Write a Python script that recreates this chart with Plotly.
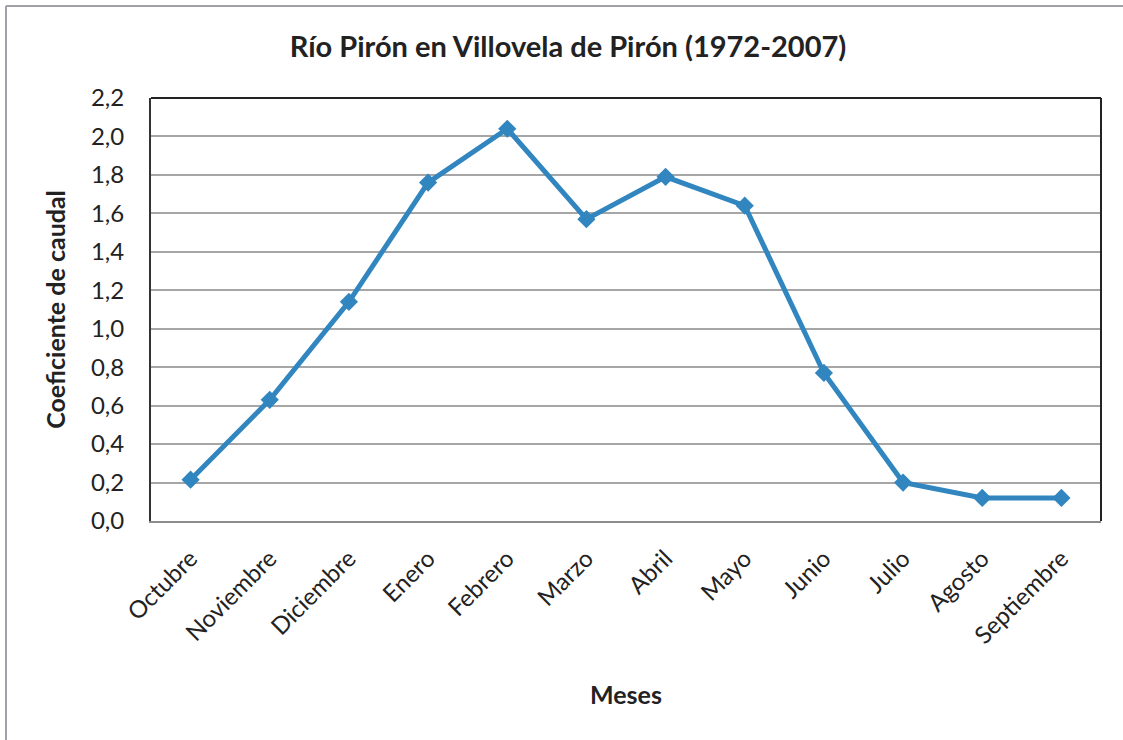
import plotly.graph_objects as go

meses = ["Octubre", "Noviembre", "Diciembre", "Enero", "Febrero", "Marzo",
         "Abril", "Mayo", "Junio", "Julio", "Agosto", "Septiembre"]
coeficiente = [0.215, 0.63, 1.14, 1.76, 2.04, 1.57, 1.79, 1.64, 0.77, 0.20, 0.12, 0.12]
y_ticks = [0.0, 0.2, 0.4, 0.6, 0.8, 1.0, 1.2, 1.4, 1.6, 1.8, 2.0, 2.2]
y_ticktext = [f"{v:.1f}".replace(".", ",") for v in y_ticks]

W, H = 1123, 740
L, R, T, B = 151, 22, 98, 219
FONT = "Lato"
LINE_COLOR = "#3186c0"

fig = go.Figure()
fig.add_trace(go.Scatter(
    x=meses, y=coeficiente, mode="lines+markers",
    line=dict(color=LINE_COLOR, width=5),
    marker=dict(symbol="diamond", size=14, color=LINE_COLOR),
    showlegend=False, hoverinfo="x+y",
))

pw = W - L - R
ph = H - T - B

fig.update_layout(
    width=W, height=H, autosize=False,
    margin=dict(l=L, r=R, t=T, b=B),
    paper_bgcolor="white", plot_bgcolor="white",
    font=dict(family=FONT, color="#222222"),
    title=dict(text="<b>Río Pirón en Villovela de Pirón (1972-2007)</b>",
               x=568 / W, xanchor="center", xref="container",
               y=1 - 47 / H, yanchor="middle", yref="container",
               font=dict(family=FONT, size=29, color="#222222")),
    xaxis=dict(
        type="category", tickangle=-45, tickfont=dict(size=24),
        showgrid=False, ticks="", showline=True, linecolor="#8c8c8c", linewidth=2,
        mirror=False, range=[-0.5, len(meses) - 0.5], ticklabelstandoff=12,
        title=dict(text="<b>Meses</b>", font=dict(size=25), standoff=38),
    ),
    yaxis=dict(
        range=[0, 2.2], tickvals=y_ticks, ticktext=y_ticktext,
        tickfont=dict(size=24), ticks="", ticklabelstandoff=20,
        showgrid=True, gridcolor="#a6a6a6", gridwidth=2,
        showline=True, linecolor="#333333", linewidth=2, zeroline=False,
        title=dict(text="<b>Coeficiente de caudal</b>", font=dict(size=25), standoff=18),
    ),
    shapes=[
        dict(type="line", xref="paper", yref="paper", x0=0, x1=1, y0=1, y1=1,
             line=dict(color="#222222", width=2)),
        dict(type="line", xref="paper", yref="paper", x0=1, x1=1, y0=0, y1=1,
             line=dict(color="#222222", width=2)),
        dict(type="line", xref="paper", yref="paper",
             x0=(6 - L) / pw, x1=(W - L) / pw, y0=(H - B - 6) / ph, y1=(H - B - 6) / ph,
             line=dict(color="#a0a0a8", width=2)),
        dict(type="line", xref="paper", yref="paper",
             x0=(6 - L) / pw, x1=(6 - L) / pw, y0=-B / ph, y1=(H - B - 6) / ph,
             line=dict(color="#a0a0a8", width=2)),
    ],
)

fig.write_html("out.html", config={"displayModeBar": False},
               post_script="document.body.style.margin='0';document.body.style.overflow='hidden';")
